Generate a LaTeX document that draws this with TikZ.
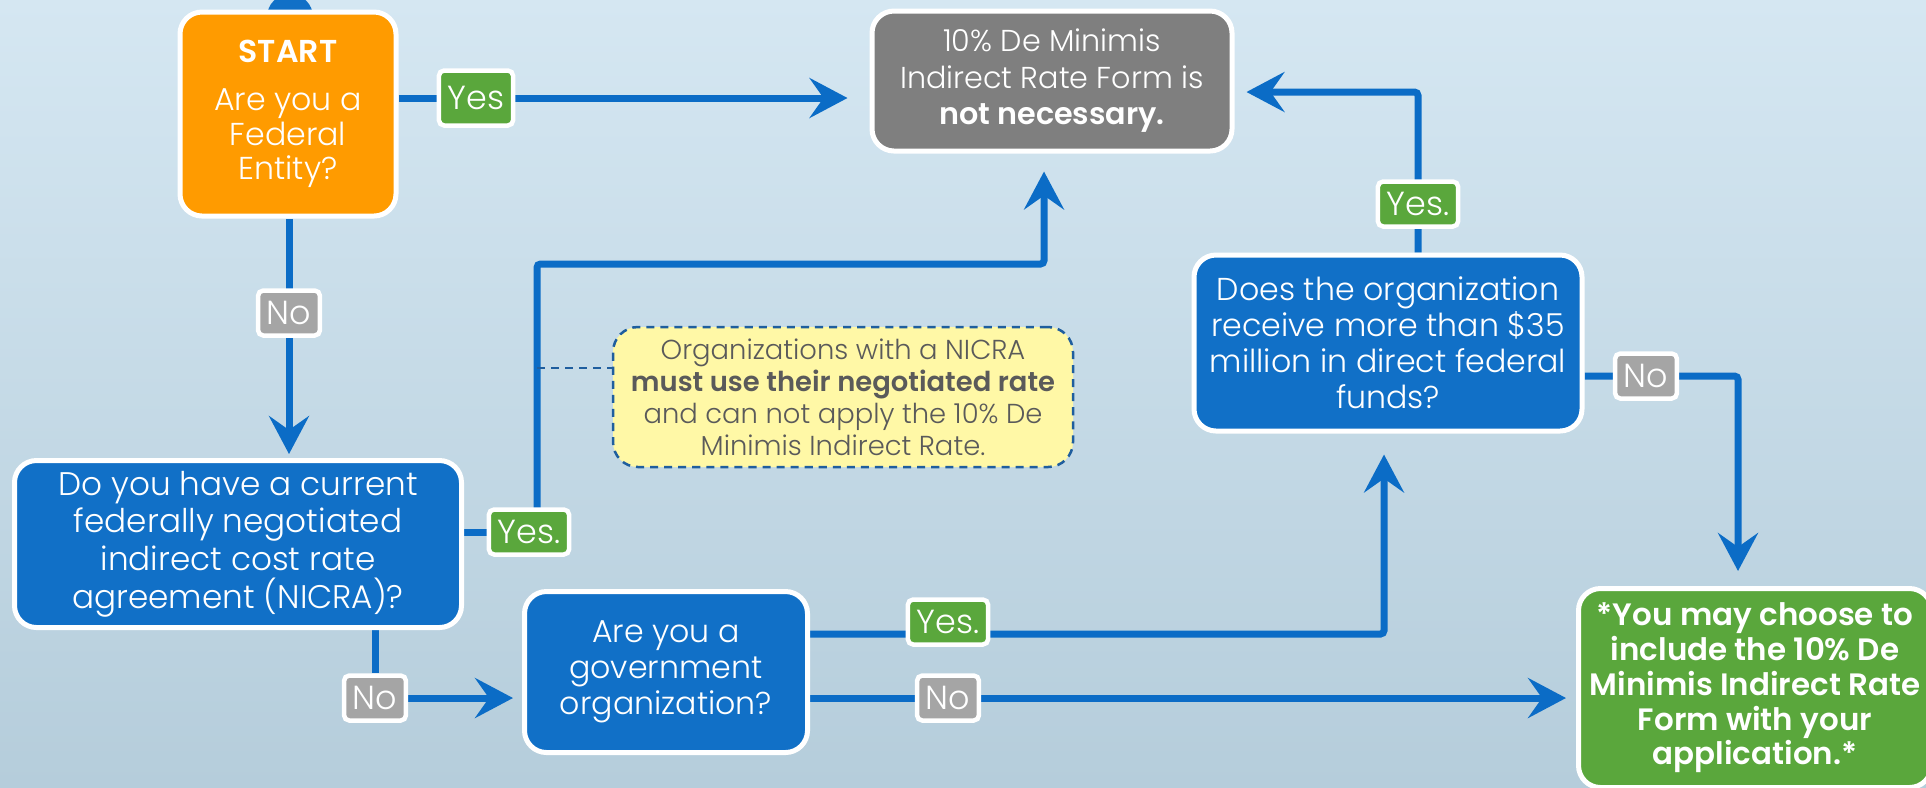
\documentclass[tikz,border=0pt]{standalone}
\usepackage{fontspec}
\setmainfont{Poppins}[UprightFont=* Light, BoldFont=* SemiBold]
\usetikzlibrary{arrows.meta,positioning,backgrounds}

\definecolor{bgtop}{HTML}{D5E7F2}
\definecolor{bgbot}{HTML}{B5CDDB}
\definecolor{flowblue}{HTML}{0B6CC6}
\definecolor{boxblue}{HTML}{1170C7}
\definecolor{startorange}{HTML}{FF9B00}
\definecolor{donegray}{HTML}{7F7F7F}
\definecolor{okgreen}{HTML}{5AA73C}
\definecolor{nogray}{HTML}{A5A5A5}
\definecolor{noteyellow}{HTML}{FFF8A6}
\definecolor{notetext}{HTML}{5A5A5A}
\definecolor{notedash}{HTML}{1F5E9E}

\begin{document}
\begin{tikzpicture}[
    box/.style={draw=white, line width=0.05cm, rounded corners=0.22cm,
                text=white, align=center, inner sep=0pt},
    qbox/.style={box, fill=boxblue, font=\fontsize{9}{10.2}\selectfont},
    tag/.style={draw=white, line width=0.045cm, rounded corners=1.5pt,
                text=white, inner xsep=2.5pt, inner ysep=0pt,
                minimum height=0.45cm, font=\fontsize{9.5}{10}\selectfont},
    yes/.style={tag, fill=okgreen},
    no/.style={tag, fill=nogray},
    flow/.style={flowblue, line width=0.07cm, rounded corners=1pt},
    arr/.style={flow, -{Stealth[length=0.38cm, width=0.4cm, inset=0.14cm]}}]

    \useasboundingbox (0,0) rectangle (19.26,-7.87);
    \clip (0,0) rectangle (19.26,-7.87);

    % Top marker
    \fill[boxblue] (2.90,-0.17) circle (0.23);

    % Boxes
    \node[box, fill=startorange, minimum width=2.16cm, minimum height=2.04cm,
          font=\fontsize{9}{9.8}\selectfont] (start) at (2.88,-1.14)
        {\textbf{START}\\[4pt]Are you a\\Federal\\Entity?};
    \node[box, fill=donegray, minimum width=3.60cm, minimum height=1.40cm,
          font=\fontsize{8.6}{10.4}\selectfont] (grey) at (10.52,-0.81)
        {10\% De Minimis\\Indirect Rate Form is\\\textbf{not necessary.}};
    \node[qbox, minimum width=4.47cm, minimum height=1.67cm,
          font=\fontsize{9.3}{10.7}\selectfont] (nicra) at (2.38,-5.44)
        {Do you have a current\\federally negotiated\\indirect cost rate\\agreement (NICRA)?};
    \node[qbox, minimum width=2.83cm, minimum height=1.61cm] (gov) at (6.66,-6.72)
        {Are you a\\government\\organization?};
    \node[qbox, minimum width=3.88cm, minimum height=1.76cm] (does) at (13.88,-3.43)
        {Does the organization\\receive more than \$35\\million in direct federal\\funds?};
    \node[box, fill=okgreen, minimum width=3.53cm, minimum height=1.99cm,
          font=\fontsize{8.8}{9.9}\selectfont\bfseries] (green) at (17.55,-6.88)
        {*You may choose to\\include the 10\% De\\Minimis Indirect Rate\\Form with your\\application.*};

    % Note
    \node[draw=notedash, dash pattern=on 2.3pt off 1.7pt, line width=0.025cm,
          rounded corners=0.25cm, fill=noteyellow, text=notetext, align=center,
          inner sep=0pt, minimum width=4.6cm, minimum height=1.4cm,
          font=\fontsize{7.8}{9.1}\selectfont] (note) at (8.43,-3.97)
        {Organizations with a NICRA\\\textbf{must use their negotiated rate}\\and can not apply the 10\% De\\Minimis Indirect Rate.};

    % Labels
    \node[yes, minimum height=0.55cm] (yes1) at (4.76,-0.98) {Yes};
    \node[yes] (yes2) at (14.18,-2.04) {Yes.};
    \node[yes] (yes3) at (5.29,-5.32) {Yes.};
    \node[yes] (yes4) at (9.48,-6.22) {Yes.};
    \node[no] (no1) at (2.89,-3.13) {No};
    \node[no] (no2) at (3.75,-6.98) {No};
    \node[no] (no3) at (9.48,-6.98) {No};
    \node[no] (no4) at (16.46,-3.76) {No};

    % Bends
    \coordinate (c1) at (14.18,-0.92);
    \coordinate (c2) at (5.37,-2.64);
    \coordinate (c2b) at (10.44,-2.64);
    \coordinate (c3) at (5.37,-3.68);
    \coordinate (c4) at (13.84,-6.34);
    \coordinate (c5) at (17.38,-3.76);

    \begin{scope}[on background layer]
    \shade[top color=bgtop, bottom color=bgbot] (0,0) rectangle (19.26,-7.87);

    % Arrows
    \draw[arr, shorten >=0.22cm] (start.east |- yes1) -- (grey.west |- yes1);
    \draw[arr, shorten >=0.04cm] (start.south -| no1) -- (nicra.north -| no1);
    \draw[flow] (nicra.east |- yes3) -- (yes3);
    \draw[arr, shorten >=0.18cm] (yes3 -| c2) -- (c2) -- (c2b) -- (c2b |- grey.south);
    \draw[notedash, dash pattern=on 2.3pt off 1.7pt, line width=0.025cm]
        (c3) -- (c3 -| note.west);
    \draw[arr, shorten >=0.09cm] (nicra.south -| no2) -- (no2) -- (no2 -| gov.west);
    \draw[arr, shorten >=0.21cm] (c4 -| gov.east) -- (c4) -- (c4 |- does.south);
    \draw[arr, shorten >=0.1cm] (gov.east |- no3) -- (no3 -| green.west);
    \draw[arr, shorten >=0.15cm] (does.east |- c5) -- (c5) -- (c5 |- green.north);
    \draw[arr, shorten >=0.12cm] (does.north -| c1) -- (c1) -- (c1 -| grey.east);
    \end{scope}
\end{tikzpicture}
\end{document}
